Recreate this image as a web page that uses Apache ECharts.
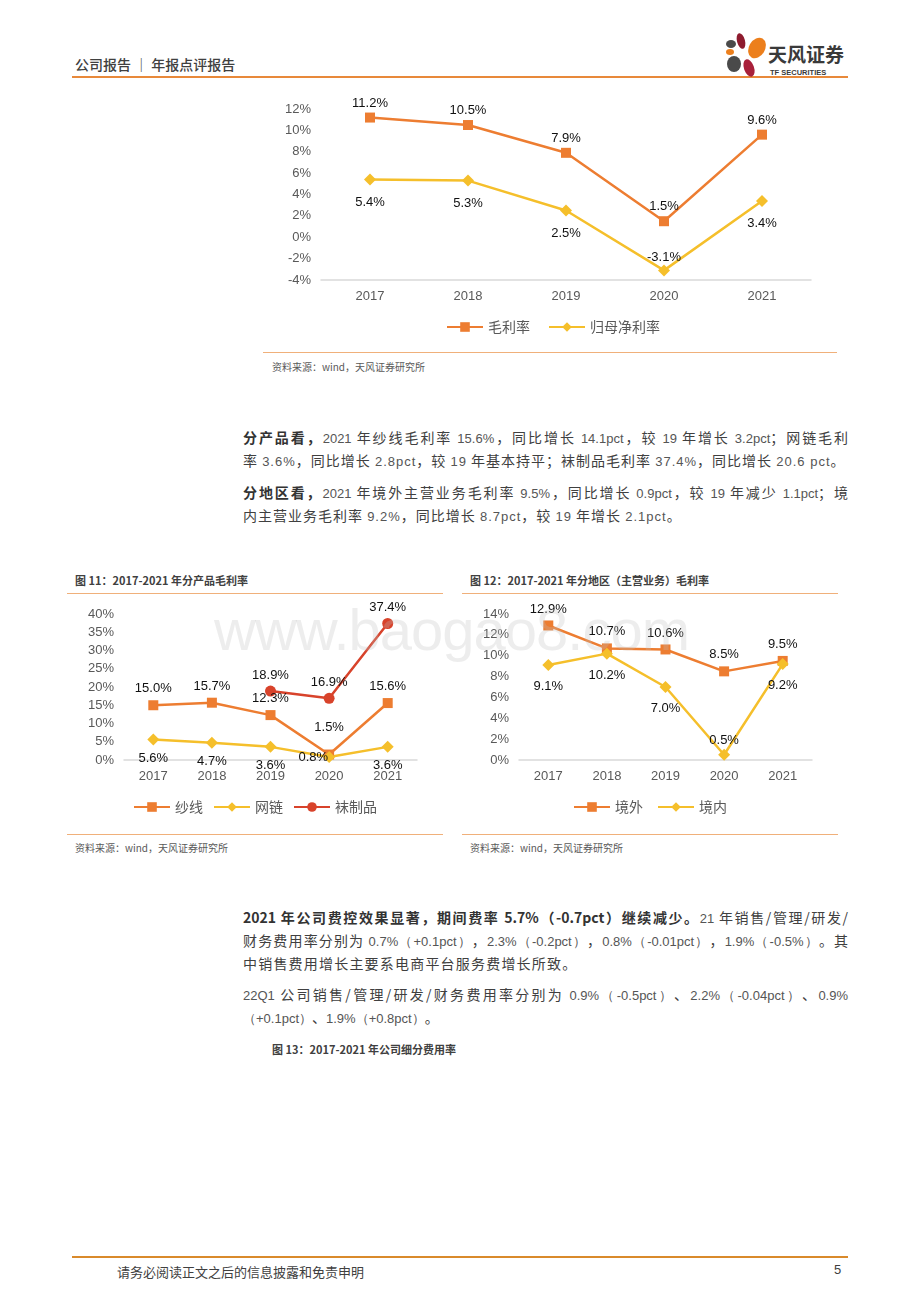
<!DOCTYPE html>
<html><head><meta charset="utf-8">
<script src="https://cdn.jsdelivr.net/npm/echarts@6/dist/echarts.min.js"></script>
<style>
html,body{margin:0;padding:0;background:#fff;}
body{width:920px;height:1302px;position:relative;overflow:hidden;font-family:"Noto Sans CJK SC","Liberation Sans",sans-serif;color:#404040;}
.abs{position:absolute;}
.hline{position:absolute;height:1px;background:#F0B07A;}
.para{position:absolute;left:243px;width:605px;font-size:14px;line-height:23px;white-space:nowrap;color:#404040;}
.j{text-align:justify;text-align-last:justify;}
.ls{letter-spacing:1px;}
.num{font-family:"Liberation Sans Narrow","Liberation Sans",sans-serif;font-size:13px;color:#555;}
b{font-weight:700;color:#333;}
.cap{position:absolute;font-size:11px;font-weight:700;color:#404040;}
.src{position:absolute;font-size:10px;color:#595959;}
.chart{position:absolute;}
</style></head>
<body>
<!-- header -->
<div class="abs" style="left:75px;top:54px;font-size:14px;color:#404040;font-weight:500;">公司报告 ｜ 年报点评报告</div>
<div class="abs" style="left:72px;top:76px;width:776px;height:2px;background:#E8893A;"></div>
<svg class="abs" style="left:720px;top:28px" width="135" height="52">
  <ellipse cx="21" cy="13" rx="4" ry="8" fill="#8E1B2E" transform="rotate(-15 21 13)"/>
  <ellipse cx="37" cy="20" rx="8" ry="11" fill="#EC7F1C" transform="rotate(30 37 20)"/>
  <ellipse cx="10" cy="24" rx="4" ry="3" fill="#EC7F1C"/>
  <ellipse cx="14" cy="36" rx="7" ry="8" fill="#4A4A4A"/>
  <ellipse cx="29" cy="40" rx="5" ry="9" fill="#A8203A" transform="rotate(-20 29 40)"/>
  <ellipse cx="11" cy="16" rx="5" ry="4" fill="#4A4A4A"/>
  <text x="48" y="34" font-size="19" font-weight="700" fill="#3A3A3A" font-family="Noto Sans CJK SC">天风证券</text>
  <text x="50" y="47" font-size="7.5" font-weight="700" fill="#3A3A3A" font-family="Liberation Sans">TF SECURITIES</text>
</svg>

<!-- chart 1 -->
<div id="c1" class="chart" style="left:263px;top:90px;width:580px;height:258px;"></div>
<div class="hline" style="left:263px;top:352px;width:574px;"></div>
<div class="src" style="left:272px;top:359px;">资料来源：wind，天风证券研究所</div>

<!-- paragraph 1 -->
<div class="para j" style="top:426px;"><b>分产品看，</b><span class="num">2021</span> 年纱线毛利率 <span class="num">15.6%</span>，同比增长 <span class="num">14.1pct</span>，较 <span class="num">19</span> 年增长 <span class="num">3.2pct</span>；网链毛利</div>
<div class="para ls" style="top:449px;">率 <span class="num">3.6%</span>，同比增长 <span class="num">2.8pct</span>，较 <span class="num">19</span> 年基本持平；袜制品毛利率 <span class="num">37.4%</span>，同比增长 <span class="num">20.6 pct</span>。</div>
<div class="para j" style="top:481px;"><b>分地区看，</b><span class="num">2021</span> 年境外主营业务毛利率 <span class="num">9.5%</span>，同比增长 <span class="num">0.9pct</span>，较 <span class="num">19</span> 年减少 <span class="num">1.1pct</span>；境</div>
<div class="para ls" style="top:504px;">内主营业务毛利率 <span class="num">9.2%</span>，同比增长 <span class="num">8.7pct</span>，较 <span class="num">19</span> 年增长 <span class="num">2.1pct</span>。</div>

<!-- chart 11 & 12 captions -->
<div class="cap" style="left:75px;top:572px;">图 11：2017-2021 年分产品毛利率</div>
<div class="hline" style="left:67px;top:593px;width:376px;"></div>
<div class="cap" style="left:470px;top:572px;">图 12：2017-2021 年分地区（主营业务）毛利率</div>
<div class="hline" style="left:462px;top:593px;width:376px;"></div>
<div id="c2" class="chart" style="left:67px;top:598px;width:376px;height:230px;"></div>
<div id="c3" class="chart" style="left:462px;top:598px;width:376px;height:230px;"></div>
<div class="hline" style="left:67px;top:834px;width:376px;"></div>
<div class="hline" style="left:462px;top:834px;width:376px;"></div>
<div class="src" style="left:75px;top:840px;">资料来源：wind，天风证券研究所</div>
<div class="src" style="left:470px;top:840px;">资料来源：wind，天风证券研究所</div>
<div class="abs" style="left:214px;top:596px;font-family:'Liberation Sans';font-size:58px;color:rgba(190,190,190,0.28);letter-spacing:-1px;pointer-events:none;">www.baogao8.com</div>

<!-- paragraph 2 -->
<div class="para j" style="top:906px;"><b>2021 年公司费控效果显著，期间费率 5.7%（-0.7pct）继续减少。</b><span class="num">21</span> 年销售/管理/研发/</div>
<div class="para j" style="top:929px;">财务费用率分别为 <span class="num">0.7%（+0.1pct）</span>，<span class="num">2.3%（-0.2pct）</span>，<span class="num">0.8%（-0.01pct）</span>，<span class="num">1.9%（-0.5%）</span>。其</div>
<div class="para" style="top:952px;letter-spacing:1.2px;">中销售费用增长主要系电商平台服务费增长所致。</div>
<div class="para j" style="top:983px;"><span class="num">22Q1</span> 公司销售/管理/研发/财务费用率分别为 <span class="num">0.9%（-0.5pct）</span>、<span class="num">2.2%（-0.04pct）</span>、<span class="num">0.9%</span></div>
<div class="para" style="top:1006px;"><span class="num">（+0.1pct）</span>、<span class="num">1.9%（+0.8pct）</span>。</div>
<div class="cap" style="left:272px;top:1041px;">图 13：2017-2021 年公司细分费用率</div>

<!-- footer -->
<div class="abs" style="left:72px;top:1256px;width:776px;height:2px;background:#D98A2B;"></div>
<div class="abs" style="left:117px;top:1262px;font-size:13px;color:#404040;">请务必阅读正文之后的信息披露和免责申明</div>
<div class="abs" style="left:834px;top:1262px;font-size:13px;color:#404040;font-family:'Liberation Sans';">5</div>

<script>
// ---------- data ----------
const years = ['2017', '2018', '2019', '2020', '2021'];
// chart 1
const grossMargin = [11.2, 10.5, 7.9, 1.5, 9.6];
const netMargin = [5.4, 5.3, 2.5, -3.1, 3.4];
// chart 11 (by product)
const yarn = [15.0, 15.7, 12.3, 1.5, 15.6];
const netChain = [5.6, 4.7, 3.6, 0.8, 3.6];
const socks = [null, null, 18.9, 16.9, 37.4];
// chart 12 (by region)
const overseas = [12.9, 10.7, 10.6, 8.5, 9.5];
const domestic = [9.1, 10.2, 7.0, 0.5, 9.2];

const ORANGE = '#ED7D31', YELLOW = '#F5BF2B', RED = '#D8432B';
const AXIS_TXT = '#595959';
const NUMFONT = 'Liberation Sans';
const fmt = p => (p.value == null ? '' : Number(p.value).toFixed(1) + '%');

function withLabels(values, overrides) {
  return values.map((v, i) => overrides && overrides[i] ? { value: v, label: overrides[i] } : v);
}
function lineSeries(name, data, color, symbol, labelPos, labelDist) {
  return {
    name, type: 'line', data, connectNulls: false,
    symbol, symbolSize: symbol === 'diamond' ? 12 : 10,
    lineStyle: { color, width: 2.5 }, itemStyle: { color },
    label: { show: true, position: labelPos, distance: labelDist, formatter: fmt,
      color: '#111', fontSize: 13, fontFamily: NUMFONT },
    emphasis: { disabled: true }, animation: false
  };
}
function baseOpt(grid, yMin, yMax, yInt, legendTop, labelSize, legendGap) {
  return {
    animation: false,
    grid,
    legend: { top: legendTop, left: 'center', itemWidth: 36, itemHeight: 12, itemGap: legendGap,
      textStyle: { color: AXIS_TXT, fontSize: labelSize + 1, fontFamily: 'Noto Sans CJK SC' } },
    xAxis: { type: 'category', data: years, boundaryGap: true,
      axisLine: { show: true, onZero: false, lineStyle: { color: '#D9D9D9', width: 1.5 } },
      axisTick: { show: false },
      axisLabel: { color: AXIS_TXT, fontSize: labelSize, fontFamily: NUMFONT, margin: 10 } },
    yAxis: { type: 'value', min: yMin, max: yMax, interval: yInt,
      splitLine: { show: false }, axisLine: { show: false }, axisTick: { show: false },
      axisLabel: { color: AXIS_TXT, fontSize: labelSize, fontFamily: NUMFONT, formatter: '{value}%', margin: 10 } }
  };
}

// ---------- chart 1 ----------
const c1 = echarts.init(document.getElementById('c1'));
const o1 = baseOpt({ left: 58, top: 19, width: 490, height: 171 }, -4, 12, 2, 225, 13, 18);
o1.series = [
  lineSeries('毛利率', grossMargin, ORANGE, 'rect', 'top', 3),
  lineSeries('归母净利率', withLabels(netMargin, { 3: { position: 'top', distance: 0 } }), YELLOW, 'diamond', 'bottom', 10)
];
c1.setOption(o1);

// ---------- chart 11 ----------
const c2 = echarts.init(document.getElementById('c2'));
const o2 = baseOpt({ left: 57, top: 16, width: 293, height: 146 }, 0, 40, 5, 197, 13, 10);
o2.series = [
  lineSeries('纱线', withLabels(yarn, { 3: { position: 'top', distance: 16 } }), ORANGE, 'rect', 'top', 5),
  lineSeries('网链', withLabels(netChain, { 3: { position: 'left', distance: -5 } }), YELLOW, 'diamond', 'bottom', 6),
  lineSeries('袜制品', socks, RED, 'circle', 'top', 4)
];
o2.series[2].symbolSize = 11;
c2.setOption(o2);

// ---------- chart 12 ----------
const c3 = echarts.init(document.getElementById('c3'));
const o3 = baseOpt({ left: 57, top: 16, width: 293, height: 146 }, 0, 14, 2, 197, 13, 14);
o3.series = [
  lineSeries('境外', overseas, ORANGE, 'rect', 'top', 5),
  lineSeries('境内', withLabels(domestic, { 3: { position: 'top', distance: 2 } }), YELLOW, 'diamond', 'bottom', 9)
];
c3.setOption(o3);
</script>
</body></html>
